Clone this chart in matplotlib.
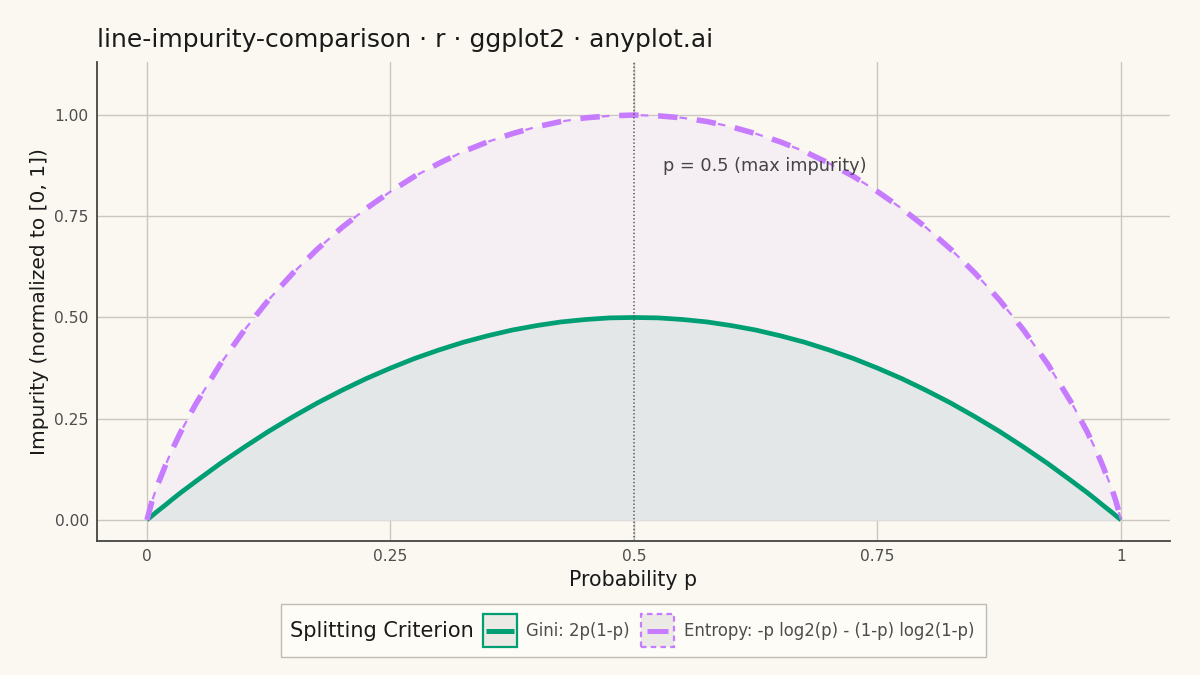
import matplotlib
matplotlib.use("Agg")
import matplotlib.pyplot as plt
from matplotlib.patches import Rectangle
from matplotlib.lines import Line2D

plt.rcParams['font.family'] = ['DejaVu Sans']
plt.rcParams['lines.scale_dashes'] = False

# Data
p = [0.0, 0.005, 0.01, 0.02, 0.025, 0.035, 0.05, 0.075, 0.10, 0.125, 0.15, 0.175, 0.20, 0.225, 0.25,
     0.275, 0.30, 0.325, 0.35, 0.375, 0.40, 0.425, 0.45, 0.475, 0.50,
     0.525, 0.55, 0.575, 0.60, 0.625, 0.65, 0.675, 0.70, 0.725, 0.75, 0.775, 0.80, 0.825, 0.85,
     0.875, 0.90, 0.925, 0.95, 0.965, 0.975, 0.98, 0.99, 0.995, 1.0]
gini = [0.0, 0.010, 0.020, 0.039, 0.049, 0.068, 0.095, 0.139, 0.180, 0.219, 0.255, 0.289, 0.320, 0.349, 0.375,
        0.399, 0.420, 0.439, 0.455, 0.469, 0.480, 0.489, 0.495, 0.499, 0.500,
        0.499, 0.495, 0.489, 0.480, 0.469, 0.455, 0.439, 0.420, 0.399, 0.375, 0.349, 0.320, 0.289, 0.255,
        0.219, 0.180, 0.139, 0.095, 0.068, 0.049, 0.039, 0.020, 0.010, 0.0]
entropy = [0.0, 0.045, 0.081, 0.141, 0.169, 0.219, 0.286, 0.384, 0.469, 0.544, 0.610, 0.669, 0.722, 0.769, 0.811,
           0.849, 0.881, 0.910, 0.934, 0.954, 0.971, 0.984, 0.993, 0.998, 1.000,
           0.998, 0.993, 0.984, 0.971, 0.954, 0.934, 0.910, 0.881, 0.849, 0.811, 0.769, 0.722, 0.669, 0.610,
           0.544, 0.469, 0.384, 0.286, 0.219, 0.169, 0.141, 0.081, 0.045, 0.0]
x_ticks = [0, 0.25, 0.5, 0.75, 1]
x_tick_labels = ["0", "0.25", "0.5", "0.75", "1"]
y_ticks = [0, 0.25, 0.5, 0.75, 1.0]
y_tick_labels = ["0.00", "0.25", "0.50", "0.75", "1.00"]
series_labels = ["Gini: 2p(1-p)", "Entropy: -p log2(p) - (1-p) log2(1-p)"]

BG = "#FAF8F1"
GREEN = "#009E73"
PURPLE = "#C77CFF"
TXT = "#4D4D4D"

fig = plt.figure(figsize=(12, 6.75), dpi=100, facecolor=BG)
ax = fig.add_axes([97/1200, 1-541/675, (1170-97)/1200, (541-62)/675])
ax.set_facecolor(BG)

ax.fill_between(p, 0, entropy, color="#F5EFF4", zorder=1, linewidth=0)
ax.fill_between(p, 0, gini, color="#E3E7E8", zorder=2, linewidth=0)

ax.plot(p, gini, color=GREEN, lw=3.4, zorder=5, solid_capstyle='butt', solid_joinstyle='round')
ax.plot(p, entropy, color=PURPLE, lw=4.0, linestyle=(0, (14, 14)), zorder=6, dash_capstyle='butt')
ax.plot(p, entropy, color=PURPLE, lw=1.6, linestyle=(12.5, (5.5, 22.5)), zorder=6, dash_capstyle='butt')

ax.axvline(0.5, color="#555555", lw=1.1, linestyle=(0, (1, 1.6)), zorder=7)
ax.text(0.53, 0.875, "p = 0.5 (max impurity)", fontsize=12.8, color="#444444", va='center', ha='left', zorder=8)

ax.set_xlim(-0.0513, 1.0503)
ax.set_ylim(-0.052, 1.131)
ax.set_xticks(x_ticks)
ax.set_xticklabels(x_tick_labels)
ax.set_yticks(y_ticks)
ax.set_yticklabels(y_tick_labels)
ax.tick_params(axis='both', length=0, labelsize=11.2, labelcolor=TXT, pad=6)
ax.grid(True, color="#CBC7C0", lw=1.0, zorder=0)
ax.set_axisbelow(True)
for s in ['top', 'right']:
    ax.spines[s].set_visible(False)
for s in ['left', 'bottom']:
    ax.spines[s].set_color("#444444")
    ax.spines[s].set_linewidth(1.3)

ax.set_xlabel("Probability p", fontsize=14.8, color="#1a1a1a", labelpad=4)
ax.set_ylabel("Impurity (normalized to [0, 1])", fontsize=14.5, color="#1a1a1a", labelpad=4)

fig.text(97/1200, 1-40/675, "line-impurity-comparison · r · ggplot2 · anyplot.ai",
         fontsize=18, color="#1a1a1a", va='center', ha='left')

# Legend drawn manually (ggplot style, title at left)
def fx(px):
    return px/1200
def fy(py):
    return 1-py/675

fig.patches.append(Rectangle((fx(281), fy(657)), fx(986)-fx(281), fy(604)-fy(657),
                             transform=fig.transFigure, facecolor="#FDFCF7", edgecolor="#BDBBB5", lw=1.0))
fig.text(fx(290), fy(631), "Splitting Criterion", fontsize=15, color="#1a1a1a", va='center', ha='left')

fig.patches.append(Rectangle((fx(483), fy(647)), fx(517)-fx(483), fy(614)-fy(647),
                             transform=fig.transFigure, facecolor="#EBEAE4", edgecolor=GREEN, lw=1.6))
fig.lines.append(Line2D([fx(486), fx(514)], [fy(631), fy(631)], transform=fig.transFigure,
                        color=GREEN, lw=3.6, solid_capstyle='butt'))
fig.text(fx(526), fy(631), series_labels[0], fontsize=11.9, color=TXT, va='center', ha='left')

fig.patches.append(Rectangle((fx(641), fy(647)), fx(674)-fx(641), fy(614)-fy(647),
                             transform=fig.transFigure, facecolor="#EBEAE4", edgecolor=PURPLE, lw=1.6,
                             linestyle=(0, (4, 3))))
fig.lines.append(Line2D([fx(647), fx(668)], [fy(631), fy(631)], transform=fig.transFigure,
                        color=PURPLE, lw=3.6, solid_capstyle='butt'))
fig.text(fx(684), fy(631), series_labels[1], fontsize=11.9, color=TXT, va='center', ha='left')

fig.savefig("out.png", dpi=100, facecolor=BG)
